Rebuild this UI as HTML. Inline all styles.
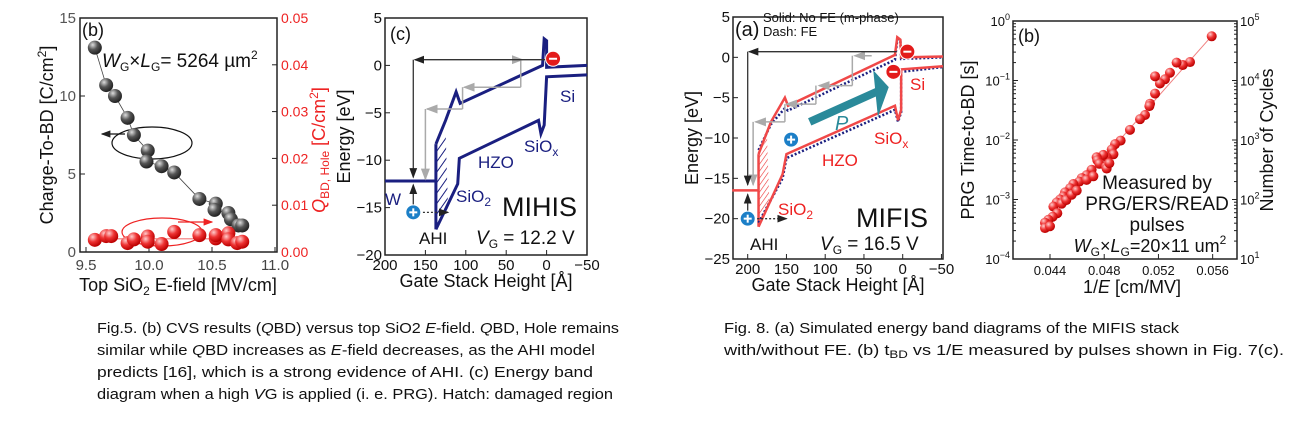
<!DOCTYPE html>
<html><head><meta charset="utf-8"><style>
html,body{margin:0;padding:0;background:#fff;}
svg{display:block;font-family:"Liberation Sans",sans-serif;}
.cap{font-family:"Liberation Sans",sans-serif;font-size:15px;fill:#111;}
</style></head><body>
<svg id="fig" width="1313" height="426" viewBox="0 0 1313 426">
<defs>
<radialGradient id="gball" cx="0.35" cy="0.3" r="0.7"><stop offset="0" stop-color="#ddd"/><stop offset="0.5" stop-color="#555"/><stop offset="1" stop-color="#222"/></radialGradient>
<radialGradient id="rball" cx="0.35" cy="0.3" r="0.7"><stop offset="0" stop-color="#fcc"/><stop offset="0.5" stop-color="#ee3333"/><stop offset="1" stop-color="#b00"/></radialGradient>
<pattern id="hatchB" width="6" height="6" patternUnits="userSpaceOnUse" patternTransform="rotate(35)"><line x1="0" y1="0" x2="0" y2="6" stroke="#1a1f80" stroke-width="2"/></pattern>
<pattern id="hatchR" width="4" height="4" patternUnits="userSpaceOnUse" patternTransform="rotate(35)"><line x1="0" y1="0" x2="0" y2="4" stroke="#e33" stroke-width="1.2"/></pattern>
<marker id="ak" markerWidth="8" markerHeight="8" refX="7" refY="4" orient="auto"><path d="M0,1 L8,4 L0,7z" fill="#222"/></marker>
<marker id="ag" markerWidth="8" markerHeight="8" refX="7" refY="4" orient="auto"><path d="M0,1 L8,4 L0,7z" fill="#aaa"/></marker>
<marker id="ar" markerWidth="8" markerHeight="8" refX="7" refY="4" orient="auto"><path d="M0,1 L8,4 L0,7z" fill="#e22"/></marker>
</defs>
<g id="pb"></g>
<g id="pc"></g>
<g id="pa"></g>
<g id="pl"></g>
<g>
<text class="cap" x="97" y="333" textLength="522" lengthAdjust="spacingAndGlyphs">Fig.5. (b) CVS results (<tspan font-style="italic">Q</tspan>BD) versus top SiO2 <tspan font-style="italic">E</tspan>-field. <tspan font-style="italic">Q</tspan>BD, Hole remains</text>
<text class="cap" x="97" y="355" textLength="498" lengthAdjust="spacingAndGlyphs">similar while <tspan font-style="italic">Q</tspan>BD increases as <tspan font-style="italic">E</tspan>-field decreases, as the AHI model</text>
<text class="cap" x="97" y="377" textLength="496" lengthAdjust="spacingAndGlyphs">predicts [16], which is a strong evidence of AHI. (c) Energy band</text>
<text class="cap" x="97" y="399" textLength="516" lengthAdjust="spacingAndGlyphs">diagram when a high <tspan font-style="italic">V</tspan>G is applied (i. e. PRG). Hatch: damaged region</text>
</g>
<g>
<text class="cap" x="724" y="333" textLength="455" lengthAdjust="spacingAndGlyphs">Fig. 8. (a) Simulated energy band diagrams of the MIFIS stack</text>
<text class="cap" x="724" y="355" textLength="560" lengthAdjust="spacingAndGlyphs">with/without FE. (b) t<tspan font-size="11" dy="3">BD</tspan><tspan dy="-3"> vs 1/E measured by pulses shown in Fig. 7(c).</tspan></text>
</g>
</svg>
<script>
// ---------- Panel (b): QBD vs E-field ----------
const qbdE = [9.57,9.66,9.73,9.83,9.88,9.99,9.98,10.1,10.2,10.40,10.53,10.52,10.63,10.65,10.71,10.74];
const qbdVal = [13.1,10.7,10.0,8.6,7.5,6.5,5.8,5.5,5.1,3.4,3.1,2.7,2.5,2.1,1.7,1.7];
const holeE = [9.57,9.66,9.70,9.83,9.88,9.99,9.99,10.1,10.2,10.40,10.53,10.53,10.63,10.63,10.70,10.74];
const holeVal = [0.0026,0.0034,0.0034,0.0019,0.0027,0.0033,0.0022,0.0017,0.0043,0.0036,0.0029,0.0036,0.0040,0.0027,0.0019,0.0022];
const bXTicks = [9.5,10.0,10.5,11.0];
const bYTicks = [0,5,10,15];
const bY2Ticks = [0,0.01,0.02,0.03,0.04,0.05];

// ---------- Panel (b) log: tBD vs 1/E ----------
const invE = [0.05593,0.05433,0.05379,0.05334,0.05285,0.05248,0.05211,0.05175,0.05175,0.05138,0.05133,0.05101,0.05064,0.0499,0.04921,0.0488,0.04855,0.04868,0.04818,0.04793,0.04744,0.04749,0.04764,0.04813,0.04818,0.04707,0.0467,0.04634,0.04616,0.04572,0.04548,0.04511,0.04498,0.04474,0.04449,0.04425,0.04486,0.04454,0.0442,0.04388,0.04363,0.04363,0.044,0.0452,0.0456,0.04597,0.0467,0.0472,0.04838];
const logT = [-0.257,-0.69,-0.74,-0.70,-0.87,-0.98,-1.05,-0.93,-1.22,-1.39,-1.43,-1.58,-1.65,-1.83,-2.01,-2.07,-2.16,-2.24,-2.29,-2.25,-2.29,-2.34,-2.40,-2.45,-2.48,-2.50,-2.59,-2.64,-2.70,-2.74,-2.81,-2.88,-2.95,-3.00,-3.05,-3.12,-3.07,-3.23,-3.29,-3.34,-3.39,-3.48,-3.45,-3.01,-2.92,-2.85,-2.67,-2.61,-2.39];
const lXTicks = [0.044,0.048,0.052,0.056];
const lYExp = [0,-1,-2,-3,-4];
const lY2Exp = [5,4,3,2,1];

// ---------- Panel (c): MIHIS band ----------
const cUpX = [137,125,112,107,5,3,0,0,-50];
const cUpE = [-8.3,-5.8,-2.8,-4.0,0.0,2.8,2.6,-0.2,0.0];
const cLoX = [137,110,108,10,7,3,0,-50];
const cLoE = [-17.3,-12.5,-9.8,-5.8,-7.2,-6.3,-1.2,-1.0];
const cTicksX = [200,150,100,50,0,-50];
const cTicksE = [5,0,-5,-10,-15,-20];

// ---------- Panel (a): MIFIS band ----------
const aUpX = [186,170,152,148,10,7,3,2,-52];
const aUpE = [-12,-8,-5,-6,0.3,2.5,2.2,0,0.1];
const aLoX = [186,155,150,10,6,2,2,-52];
const aLoE = [-21,-14.5,-12,-6,-7.8,-6.5,-1.5,-1.1];
const aDUpE = [-11.5,-8.3,-6.3,-6.6,-0.3,2.2,2.0,-0.2,0.0];
const aDLoE = [-20.5,-15,-12.5,-6.5,-8,-6.8,-1.8,-1.2];
const aTicksX = [200,150,100,50,0,-50];
const aTicksE = [5,0,-5,-10,-15,-20,-25];

const NS='http://www.w3.org/2000/svg';
function mk(parent,tag,attrs,text){const e=document.createElementNS(NS,tag);for(const k in attrs)e.setAttribute(k,attrs[k]);if(text!==undefined)e.textContent=text;parent.appendChild(e);return e;}
function poly(xs,ys,fx,fy){return xs.map((x,i)=>fx(x)+','+fy(ys[i])).join(' ');}

// ===== Panel b =====
(function(){
const g=document.getElementById('pb');
const L=80,R=277,T=18,B=252;
const fx=v=>86+(v-9.5)*126, fy=v=>B-v*(B-T)/15, fy2=v=>B-v*(B-T)/0.05;
let r=mk(g,'rect',{x:L,y:T,width:R-L,height:B-T,fill:'none',stroke:'#222','stroke-width':1.5});

bXTicks.forEach(v=>{mk(g,'line',{x1:fx(v),x2:fx(v),y1:B,y2:B-5,stroke:'#222'});
 let t=mk(g,'text',{x:fx(v),y:270,'text-anchor':'middle','font-size':15,fill:'#444'},v.toFixed(1));
 });
bYTicks.forEach(v=>{mk(g,'line',{x1:L,x2:L+5,y1:fy(v),y2:fy(v),stroke:'#222'});
 let t=mk(g,'text',{x:76,y:fy(v)+5,'text-anchor':'end','font-size':15,fill:'#555'},v);
 });
bY2Ticks.forEach(v=>{mk(g,'line',{x1:R,x2:R-5,y1:fy2(v),y2:fy2(v),stroke:'#222'});
 let t=mk(g,'text',{x:281,y:fy2(v)+5,'font-size':14,fill:'#e22'},v.toFixed(2));
 });
let xt=mk(g,'text',{x:178,y:291,'text-anchor':'middle','font-size':18,fill:'#111'});xt.innerHTML='Top SiO<tspan font-size="12" dy="4">2</tspan><tspan dy="-4"> E-field [MV/cm]</tspan>';

let yt=mk(g,'text',{x:0,y:0,'text-anchor':'middle','font-size':18,fill:'#111',transform:'translate(53,135) rotate(-90)'});yt.innerHTML='Charge-To-BD [C/cm<tspan font-size="12" dy="-7">2</tspan><tspan dy="7">]</tspan>';

let y2=mk(g,'text',{x:0,y:0,'text-anchor':'middle','font-size':18,fill:'#e22',transform:'translate(325,150) rotate(-90)'});y2.innerHTML='<tspan font-style="italic">Q</tspan><tspan font-size="12" dy="4">BD, Hole</tspan><tspan dy="-4"> [C/cm</tspan><tspan font-size="12" dy="-7">2</tspan><tspan dy="7">]</tspan>';

let pl=mk(g,'text',{x:82,y:36,'font-size':18,fill:'#111'},'(b)');
let an=mk(g,'text',{x:102,y:67,'font-size':19,fill:'#111'});an.innerHTML='<tspan font-style="italic">W</tspan><tspan font-size="12" dy="4">G</tspan><tspan dy="-4">×</tspan><tspan font-style="italic">L</tspan><tspan font-size="12" dy="4">G</tspan><tspan dy="-4">= 5264 µm</tspan><tspan font-size="12" dy="-8">2</tspan>';

mk(g,'polyline',{points:poly(qbdE,qbdVal,fx,fy),fill:'none',stroke:'#444','stroke-width':0.8});
mk(g,'line',{x1:fx(9.6),x2:fx(10.75),y1:fy2(0.0028),y2:fy2(0.0028),stroke:'#e33','stroke-width':0.8});
mk(g,'ellipse',{cx:152,cy:143,rx:40,ry:16,fill:'none',stroke:'#111','stroke-width':1.2});
mk(g,'line',{x1:125,y1:134,x2:102,y2:134,stroke:'#111','stroke-width':1.2,'marker-end':'url(#ak)'});
mk(g,'ellipse',{cx:162,cy:232,rx:40,ry:14,fill:'none',stroke:'#e22','stroke-width':1.2});
mk(g,'line',{x1:178,y1:222,x2:212,y2:222,stroke:'#e22','stroke-width':1.2,'marker-end':'url(#ar)'});
qbdE.forEach((v,i)=>{const c=mk(g,'circle',{cx:fx(v),cy:fy(qbdVal[i]),r:7,fill:'url(#gball)'});
 });
holeE.forEach((v,i)=>{const c=mk(g,'circle',{cx:fx(v),cy:fy2(holeVal[i]),r:7,fill:'url(#rball)'});
 });
})();

// ===== Band diagram helper =====
function band(g,o){
const {L,R,T,B,fx,fy,ticksX,ticksE}=o;
let r=mk(g,'rect',{x:L,y:T,width:R-L,height:B-T,fill:'none',stroke:'#222','stroke-width':1.5});

ticksX.forEach(v=>{mk(g,'line',{x1:fx(v),x2:fx(v),y1:B,y2:B-5,stroke:'#222'});
 let t=mk(g,'text',{x:fx(v),y:B+15,'text-anchor':'middle','font-size':15,fill:'#111'},v<0?'−'+(-v):v);
 });
ticksE.forEach(v=>{mk(g,'line',{x1:L,x2:L+5,y1:fy(v),y2:fy(v),stroke:'#222'});
 let t=mk(g,'text',{x:L-3,y:fy(v)+5,'text-anchor':'end','font-size':15,fill:'#111'},v<0?'−'+(-v):v);
 });
let xt=mk(g,'text',{x:(L+R)/2,y:B+32,'text-anchor':'middle','font-size':18,fill:'#111'},'Gate Stack Height [Å]');

let yt=mk(g,'text',{x:0,y:0,'text-anchor':'middle','font-size':18,fill:'#111',transform:`translate(${L-35},${(T+B)/2}) rotate(-90)`},'Energy [eV]');

}
function charge(g,x,y,col,sign,name){
const c=mk(g,'circle',{cx:x,cy:y,r:7.5,fill:col,stroke:'#fff','stroke-width':1});

mk(g,'line',{x1:x-4,x2:x+4,y1:y,y2:y,stroke:'#fff','stroke-width':2});
if(sign==='+')mk(g,'line',{x1:x,x2:x,y1:y-4,y2:y+4,stroke:'#fff','stroke-width':2});
}
function txt(g,x,y,s,attrs,name){const t=mk(g,'text',Object.assign({x:x,y:y},attrs));t.innerHTML=s;
return t;}

// ===== Panel c =====
(function(){
const g=document.getElementById('pc');
const L=385,R=587,T=18,B=255;
const fx=v=>L+(200-v)*(R-L)/250, fy=v=>T+(5-v)*(B-T)/25;
band(g,{L,R,T,B,fx,fy,ticksX:cTicksX,ticksE:cTicksE});
const nv='#1a1f80';
// hatched region
mk(g,'polygon',{points:`${fx(137)},${fy(-8.3)} ${fx(125)},${fy(-7)} ${fx(122)},${fy(-15)} ${fx(137)},${fy(-17.3)}`,fill:'url(#hatchB)'});
// W Fermi level
mk(g,'line',{x1:fx(200),x2:fx(137),y1:fy(-12.2),y2:fy(-12.2),stroke:nv,'stroke-width':3});
mk(g,'line',{x1:fx(137),x2:fx(137),y1:fy(-17.3),y2:fy(-8.3),stroke:nv,'stroke-width':3});
let u=mk(g,'polyline',{points:poly(cUpX,cUpE,fx,fy),fill:'none',stroke:nv,'stroke-width':3});

let l=mk(g,'polyline',{points:poly(cLoX,cLoE,fx,fy),fill:'none',stroke:nv,'stroke-width':3});

// gray steps
const gs={stroke:'#aaa','stroke-width':1.5,fill:'none'};
mk(g,'polyline',Object.assign({points:`${fx(32)},${fy(0.5)} ${fx(32)},${fy(-2.3)}`},gs));
mk(g,'line',Object.assign({x1:fx(32),y1:fy(-2.3),x2:fx(102),y2:fy(-2.3),'marker-end':'url(#ag)'},gs));
mk(g,'line',Object.assign({x1:fx(104),y1:fy(-2.3),x2:fx(104),y2:fy(-4.6)},gs));
mk(g,'line',Object.assign({x1:fx(104),y1:fy(-4.6),x2:fx(148),y2:fy(-4.6),'marker-end':'url(#ag)'},gs));
mk(g,'line',Object.assign({x1:fx(150),y1:fy(-4.6),x2:fx(150),y2:fy(-12),'marker-end':'url(#ag)'},gs));
mk(g,'line',Object.assign({x1:fx(40),y1:fy(0.6),x2:fx(30),y2:fy(0.6),'marker-end':'url(#ag)'},gs));
// black path
mk(g,'line',{x1:fx(-5),y1:fy(0.6),x2:fx(163),y2:fy(0.6),stroke:'#333','stroke-width':1.3,'marker-end':'url(#ak)'});
mk(g,'line',{x1:fx(165),y1:fy(0.6),x2:fx(165),y2:fy(-11.8),stroke:'#333','stroke-width':1.3,'marker-end':'url(#ak)'});
mk(g,'line',{x1:fx(165),y1:fy(-15),x2:fx(165),y2:fy(-12.6),stroke:'#333','stroke-width':1.3,'marker-end':'url(#ak)'});
mk(g,'line',{x1:fx(158),y1:fy(-15.5),x2:fx(122),y2:fy(-15.5),stroke:'#333','stroke-width':1.3,'stroke-dasharray':'2,2','marker-end':'url(#ak)'});
charge(g,fx(165),fy(-15.5),'#1c7fc7','+','hole');
charge(g,fx(-8),fy(0.7),'#e31b1b','-','electron');
txt(g,390,40,'(c)',{'font-size':18,fill:'#111'},'panel-label');
txt(g,560,102,'Si',{'font-size':17,fill:nv},'si-label');
txt(g,524,152,'SiO<tspan font-size="12" dy="4">x</tspan>',{'font-size':17,fill:nv},'siox-label');
txt(g,478,168,'HZO',{'font-size':17,fill:nv},'hzo-label');
txt(g,456,202,'SiO<tspan font-size="12" dy="4">2</tspan>',{'font-size':17,fill:nv},'sio2-label');
txt(g,502,216,'MIHIS',{'font-size':27,fill:'#111'},'stack-label');
txt(g,385,205,'W',{'font-size':17,fill:nv},'w-label');
txt(g,419,244,'AHI',{'font-size':17,fill:'#111'},'ahi-label');
txt(g,476,244,'<tspan font-style="italic">V</tspan><tspan font-size="12" dy="4">G</tspan><tspan dy="-4"> = 12.2 V</tspan>',{'font-size':19,fill:'#111'},'vg-label');
})();

// ===== Panel a =====
(function(){
const g=document.getElementById('pa');
const L=733,R=943,T=17,B=259;
const fx=v=>747.7+(200-v)*0.775, fy=v=>T+(5-v)*(B-T)/30;
band(g,{L,R,T,B,fx,fy,ticksX:aTicksX,ticksE:aTicksE});
const rd='#f04848', nv='#1a1f80';
mk(g,'polygon',{points:`${fx(186)},${fy(-12)} ${fx(175)},${fy(-10)} ${fx(172)},${fy(-18)} ${fx(186)},${fy(-21)}`,fill:'url(#hatchR)'});
mk(g,'line',{x1:fx(220),x2:fx(186),y1:fy(-16.5),y2:fy(-16.5),stroke:rd,'stroke-width':2.5});
mk(g,'line',{x1:fx(186),x2:fx(186),y1:fy(-21),y2:fy(-12),stroke:rd,'stroke-width':2.5});
let du=mk(g,'polyline',{points:poly(aUpX,aDUpE,fx,fy),fill:'none',stroke:nv,'stroke-width':2.5,'stroke-dasharray':'2,2'});

let dl=mk(g,'polyline',{points:poly(aLoX,aDLoE,fx,fy),fill:'none',stroke:nv,'stroke-width':2.5,'stroke-dasharray':'2,2'});

let u=mk(g,'polyline',{points:poly(aUpX,aUpE,fx,fy),fill:'none',stroke:rd,'stroke-width':2.5});

let l=mk(g,'polyline',{points:poly(aLoX,aLoE,fx,fy),fill:'none',stroke:rd,'stroke-width':2.5});

const gs={stroke:'#aaa','stroke-width':1.5,fill:'none'};
mk(g,'line',Object.assign({x1:fx(40),y1:fy(0.2),x2:fx(62),y2:fy(0.2),'marker-end':'url(#ag)'},gs));
mk(g,'line',Object.assign({x1:fx(65),y1:fy(0.2),x2:fx(65),y2:fy(-3.5)},gs));
mk(g,'line',Object.assign({x1:fx(65),y1:fy(-3.5),x2:fx(108),y2:fy(-3.5),'marker-end':'url(#ag)'},gs));
mk(g,'line',Object.assign({x1:fx(112),y1:fy(-3.5),x2:fx(112),y2:fy(-5.8)},gs));
mk(g,'line',Object.assign({x1:fx(112),y1:fy(-5.8),x2:fx(150),y2:fy(-5.8),'marker-end':'url(#ag)'},gs));
mk(g,'line',Object.assign({x1:fx(152),y1:fy(-5.8),x2:fx(152),y2:fy(-8)},gs));
mk(g,'line',Object.assign({x1:fx(152),y1:fy(-8),x2:fx(190),y2:fy(-8),'marker-end':'url(#ag)'},gs));
mk(g,'line',Object.assign({x1:fx(193),y1:fy(-8),x2:fx(193),y2:fy(-15.8),'marker-end':'url(#ag)'},gs));
mk(g,'line',{x1:fx(8),y1:fy(0.7),x2:fx(198),y2:fy(0.7),stroke:'#333','stroke-width':1.3,'marker-end':'url(#ak)'});
mk(g,'line',{x1:fx(200),y1:fy(0.7),x2:fx(200),y2:fy(-15.8),stroke:'#333','stroke-width':1.3,'marker-end':'url(#ak)'});
mk(g,'line',{x1:fx(200),y1:fy(-19.5),x2:fx(200),y2:fy(-17),stroke:'#333','stroke-width':1.3,'marker-end':'url(#ak)'});
mk(g,'line',{x1:fx(193),y1:fy(-20),x2:fx(150),y2:fy(-20),stroke:'#333','stroke-width':1.3,'stroke-dasharray':'2,2','marker-end':'url(#ak)'});
let pa=mk(g,'line',{x1:fx(120),y1:fy(-8),x2:fx(32),y2:fy(-4.2),stroke:'#2a8a9a','stroke-width':8});

mk(g,'polygon',{points:`${fx(18)},${fy(-3.7)} ${fx(38)},${fy(-1.6)} ${fx(32)},${fy(-7.4)}`,fill:'#2a8a9a'});
charge(g,fx(200),fy(-20),'#1c7fc7','+','hole');
charge(g,fx(144),fy(-10.2),'#1c7fc7','+','hole-trapped');
charge(g,fx(-6),fy(0.7),'#e31b1b','-','electron');
charge(g,fx(12),fy(-1.8),'#e31b1b','-','electron-2');
txt(g,735,36,'(a)',{'font-size':20,fill:'#111'},'panel-label');
txt(g,763,22,'Solid: No FE (m-phase)',{'font-size':13,fill:'#111'},'legend-solid');
txt(g,763,36,'Dash: FE',{'font-size':13,fill:'#111'},'legend-dash');
txt(g,910,90,'Si',{'font-size':17,fill:'#e22'},'si-label');
txt(g,874,144,'SiO<tspan font-size="12" dy="4">x</tspan>',{'font-size':17,fill:'#e22'},'siox-label');
txt(g,822,166,'HZO',{'font-size':17,fill:'#e22'},'hzo-label');
txt(g,778,215,'SiO<tspan font-size="12" dy="4">2</tspan>',{'font-size':17,fill:'#e22'},'sio2-label');
txt(g,856,227,'MIFIS',{'font-size':27,fill:'#111'},'stack-label');
txt(g,750,250,'AHI',{'font-size':17,fill:'#111'},'ahi-label');
txt(g,820,250,'<tspan font-style="italic">V</tspan><tspan font-size="12" dy="4">G</tspan><tspan dy="-4"> = 16.5 V</tspan>',{'font-size':19,fill:'#111'},'vg-label');
txt(g,835,130,'P',{'font-size':20,fill:'#2a8a9a','font-style':'italic'},'p-label');
})();

// ===== Panel log =====
(function(){
const g=document.getElementById('pl');
const L=1013,R=1237,T=21,B=259;
const fx=v=>1050+(v-0.044)*13555, fy=e=>T+(-e)*(B-T)/4;
let r=mk(g,'rect',{x:L,y:T,width:R-L,height:B-T,fill:'none',stroke:'#222','stroke-width':1.5});

lXTicks.forEach(v=>{mk(g,'line',{x1:fx(v),x2:fx(v),y1:B,y2:B-5,stroke:'#222'});
 let t=mk(g,'text',{x:fx(v),y:B+16,'text-anchor':'middle','font-size':13,fill:'#111'},v.toFixed(3));
 });
lYExp.forEach(e=>{mk(g,'line',{x1:L,x2:L+5,y1:fy(e),y2:fy(e),stroke:'#222'});mk(g,'line',{x1:R,x2:R-5,y1:fy(e),y2:fy(e),stroke:'#222'});
 let t=mk(g,'text',{x:L-3,y:fy(e)+5,'text-anchor':'end','font-size':13,fill:'#111'});t.innerHTML='10<tspan font-size="9" dy="-6">'+(e<0?'−'+(-e):e)+'</tspan>';
 });
lY2Exp.forEach((e,i)=>{let t=mk(g,'text',{x:R+3,y:fy(-i)+5,'font-size':13,fill:'#111'});t.innerHTML='10<tspan font-size="9" dy="-6">'+e+'</tspan>';
 });
for(let d=0;d<4;d++)for(let k=2;k<10;k++){const y=fy(-d-1+Math.log10(k));mk(g,'line',{x1:L,x2:L+3,y1:y,y2:y,stroke:'#222'});mk(g,'line',{x1:R,x2:R-3,y1:y,y2:y,stroke:'#222'});}
txt(g,1132,293,'1/<tspan font-style="italic">E</tspan> [cm/MV]',{'font-size':18,fill:'#111','text-anchor':'middle'},'x-axis-title');
txt(g,0,0,'PRG Time-to-BD [s]',{'font-size':18,fill:'#111','text-anchor':'middle',transform:'translate(974,140) rotate(-90)'},'y-axis-title');
txt(g,0,0,'Number of Cycles',{'font-size':18,fill:'#111','text-anchor':'middle',transform:'translate(1273,140) rotate(-90)'},'y2-axis-title');
txt(g,1018,42,'(b)',{'font-size':18,fill:'#111'},'panel-label');
mk(g,'line',{x1:fx(0.0437),y1:fy(-3.4),x2:fx(0.0559),y2:fy(-0.26),stroke:'#f08080','stroke-width':1});
invE.forEach((v,i)=>{const c=mk(g,'circle',{cx:fx(v),cy:fy(logT[i]),r:5,fill:'url(#rball)'});
 });
txt(g,1157,189,'Measured by',{'font-size':19,fill:'#111','text-anchor':'middle'},'annotation-line1');
txt(g,1157,210,'PRG/ERS/READ',{'font-size':19,fill:'#111','text-anchor':'middle'},'annotation-line2');
txt(g,1157,231,'pulses',{'font-size':19,fill:'#111','text-anchor':'middle'},'annotation-line3');
txt(g,1150,252,'<tspan font-style="italic">W</tspan><tspan font-size="12" dy="4">G</tspan><tspan dy="-4">×</tspan><tspan font-style="italic">L</tspan><tspan font-size="12" dy="4">G</tspan><tspan dy="-4">=20×11 um</tspan><tspan font-size="12" dy="-8">2</tspan>',{'font-size':18,fill:'#111','text-anchor':'middle'},'area-annotation');
})();
</script>
</body></html>
